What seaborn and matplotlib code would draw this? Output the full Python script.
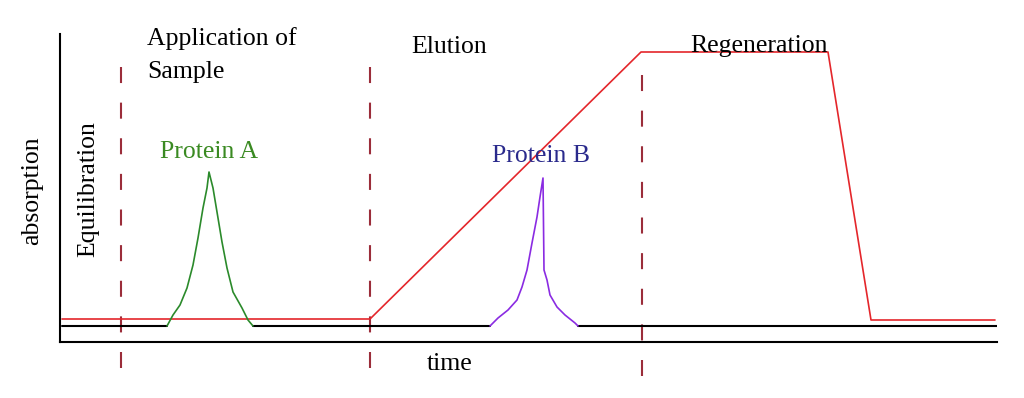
import numpy as np
import pandas as pd
import matplotlib
matplotlib.use("Agg")
import matplotlib.pyplot as plt
import seaborn as sns

# ---- data (time and absorption in arbitrary units) ----
grad_time = [0.2, 31.0, 58.1, 76.8, 81.1, 93.5]
grad_level = [2.3, 2.3, 29.0, 29.0, 2.2, 2.2]

base_time = [0.2, 10.7, 19.3, 43.0, 51.8, 93.7]
base_level = [1.6, 1.6, 1.6, 1.6, 1.6, 1.6]
base_segment = [0, 0, 1, 1, 2, 2]

peakA_time = [10.7, 11.3, 12.0, 12.7, 13.3, 13.8, 14.3, 14.7, 14.9,
              15.3, 15.7, 16.2, 16.7, 17.3, 18.2, 18.8, 19.3]
peakA_level = [1.6, 2.7, 3.7, 5.4, 7.7, 10.4, 13.4, 15.4, 17.0,
               15.4, 13.0, 10.0, 7.4, 5.0, 3.4, 2.2, 1.6]

peakB_time = [43.0, 43.8, 44.8, 45.7, 46.2, 46.7, 47.2, 47.7, 48.0, 48.3,
              48.4, 48.7, 49.0, 49.7, 50.5, 51.5, 51.8]
peakB_level = [1.6, 2.4, 3.2, 4.2, 5.5, 7.2, 9.9, 12.5, 14.5, 16.4,
               7.2, 6.2, 4.7, 3.5, 2.7, 1.9, 1.6]

phase_bounds = [6.1, 31.0, 58.2]

# ---- figure ----
sns.set_theme(style="white")
plt.rcParams["font.family"] = ["Liberation Serif", "DejaVu Serif"]

fig = plt.figure(figsize=(10.24, 3.98), dpi=100)
ax = fig.add_axes([60 / 1024, 56 / 398, 937 / 1024, 308 / 398])

FS = 18.5
RED = "#e4262b"
DASH = "#9b2d3a"

# dashed phase boundaries (extend beyond the axes)
dash_top = [27.5, 27.5, 26.7]
dash_bot = [-2.6, -2.6, -3.4]
for xb, yt, yb in zip(phase_bounds, dash_top, dash_bot):
    ax.plot([xb, xb], [yt, yb], color=DASH, lw=1.5, dashes=(7.7, 9.4),
            clip_on=False, zorder=1)

base_df = pd.DataFrame({"time": base_time, "level": base_level, "seg": base_segment})
sns.lineplot(data=base_df, x="time", y="level", units="seg", estimator=None,
             color="black", lw=1.5, sort=False, ax=ax, zorder=3)

grad_df = pd.DataFrame({"time": grad_time, "level": grad_level})
sns.lineplot(data=grad_df, x="time", y="level", color=RED, lw=1.2, sort=False,
             ax=ax, zorder=2)

sns.lineplot(x=peakA_time, y=peakA_level, color="#2b8a2b", lw=1.2, sort=False,
             ax=ax, zorder=4)
sns.lineplot(x=peakB_time, y=peakB_level, color="#8a2be2", lw=1.2, sort=False,
             ax=ax, zorder=4)

ax.set_xlim(0, 93.7)
ax.set_ylim(0, 30.8)
ax.set_xticks([])
ax.set_yticks([])
for side in ["top", "right"]:
    ax.spines[side].set_visible(False)
for side in ["left", "bottom"]:
    ax.spines[side].set_color("black")
    ax.spines[side].set_linewidth(1.5)

ax.set_xlabel("time", fontsize=FS, color="black")
ax.xaxis.set_label_coords(0.416, -0.036)
ax.set_ylabel("absorption", fontsize=FS, color="black")
ax.yaxis.set_label_coords(-0.018, 0.49)

tk = dict(fontsize=FS, clip_on=False)
ax.text(8.7, 29.7, "Application of", ha="left", va="baseline", color="black", **tk)
ax.text(8.7, 26.4, "Sample", ha="left", va="baseline", color="black", **tk)
ax.text(35.1, 28.9, "Elution", ha="left", va="baseline", color="black", **tk)
ax.text(63.0, 29.0, "Regeneration", ha="left", va="baseline", color="black", **tk)
ax.text(10.0, 18.4, "Protein A", ha="left", va="baseline", color="#3a8a22", **tk)
ax.text(43.2, 18.0, "Protein B", ha="left", va="baseline", color="#2a2a8c", **tk)
ax.text(2.8, 15.3, "Equilibration", ha="center", va="center", rotation=90,
        color="black", **tk)

fig.savefig("out.png", dpi=100)
